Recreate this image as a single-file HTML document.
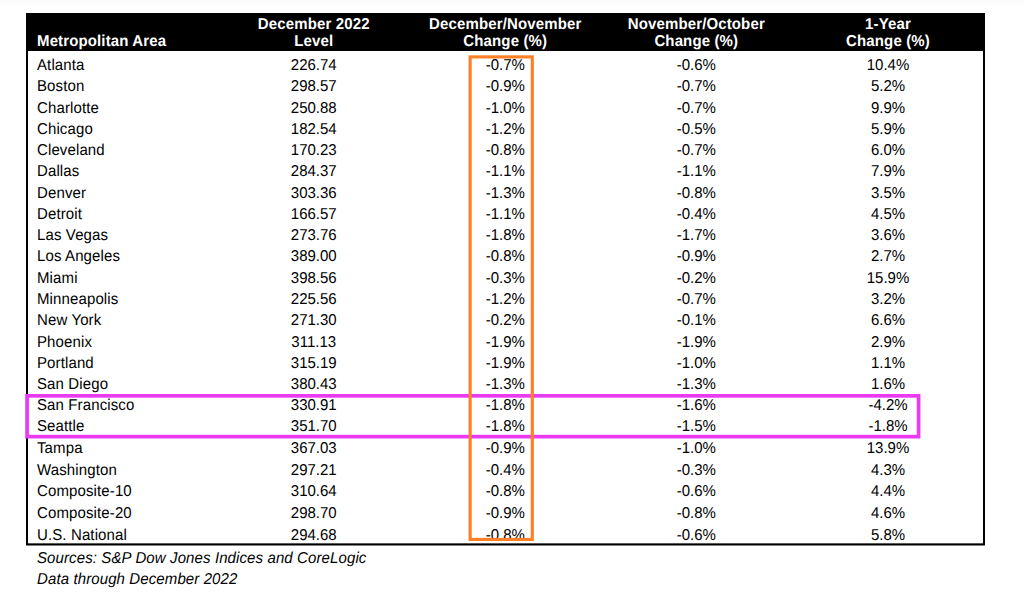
<!DOCTYPE html>
<html><head><meta charset="utf-8"><style>
html,body{margin:0;padding:0;background:#fff;}
body{width:1024px;height:602px;position:relative;overflow:hidden;font-family:"Liberation Sans",sans-serif;font-size:15px;color:#000;}
.t{position:absolute;line-height:20px;height:20px;white-space:nowrap;text-rendering:geometricPrecision;transform:scaleY(1.05);transform-origin:0 15.198px;}
.c{width:200px;text-align:center;}
.h{color:#fff;font-weight:bold;letter-spacing:0.13px;}
.i{font-style:italic;letter-spacing:0.11px;}
.n{letter-spacing:0.12px;}
.box{position:absolute;box-sizing:border-box;}
</style></head><body>
<div class="box" style="left:0;top:0;width:1024px;height:2px;background:#fafafa"></div>
<div class="box" style="left:0;top:2px;width:1024px;height:3px;background:#fdfdfd"></div>
<div class="box" style="left:26px;top:13px;width:959px;height:38px;background:#000"></div>
<div class="box" style="left:26px;top:13px;width:959px;height:532px;border:2px solid #000;border-top:0;border-bottom:0"></div>

<div class="t h" style="left:37.00px;top:31.90px">Metropolitan Area</div>
<div class="t c h" style="left:213.75px;top:14.90px">December 2022</div>
<div class="t c h" style="left:213.75px;top:31.90px">Level</div>
<div class="t c h" style="left:405.25px;top:14.90px">December/November</div>
<div class="t c h" style="left:405.25px;top:31.90px">Change (%)</div>
<div class="t c h" style="left:596.30px;top:14.90px">November/October</div>
<div class="t c h" style="left:596.30px;top:31.90px">Change (%)</div>
<div class="t c h" style="left:788.00px;top:14.90px">1-Year</div>
<div class="t c h" style="left:788.00px;top:31.90px">Change (%)</div>
<div class="t n" style="left:37.00px;top:55.90px">Atlanta</div>
<div class="t c " style="left:213.75px;top:55.90px">226.74</div>
<div class="t c " style="left:405.25px;top:55.90px">-0.7%</div>
<div class="t c " style="left:596.30px;top:55.90px">-0.6%</div>
<div class="t c " style="left:788.00px;top:55.90px">10.4%</div>
<div class="t n" style="left:37.00px;top:76.90px">Boston</div>
<div class="t c " style="left:213.75px;top:76.90px">298.57</div>
<div class="t c " style="left:405.25px;top:76.90px">-0.9%</div>
<div class="t c " style="left:596.30px;top:76.90px">-0.7%</div>
<div class="t c " style="left:788.00px;top:76.90px">5.2%</div>
<div class="t n" style="left:37.00px;top:98.90px">Charlotte</div>
<div class="t c " style="left:213.75px;top:98.90px">250.88</div>
<div class="t c " style="left:405.25px;top:98.90px">-1.0%</div>
<div class="t c " style="left:596.30px;top:98.90px">-0.7%</div>
<div class="t c " style="left:788.00px;top:98.90px">9.9%</div>
<div class="t n" style="left:37.00px;top:119.90px">Chicago</div>
<div class="t c " style="left:213.75px;top:119.90px">182.54</div>
<div class="t c " style="left:405.25px;top:119.90px">-1.2%</div>
<div class="t c " style="left:596.30px;top:119.90px">-0.5%</div>
<div class="t c " style="left:788.00px;top:119.90px">5.9%</div>
<div class="t n" style="left:37.00px;top:140.90px">Cleveland</div>
<div class="t c " style="left:213.75px;top:140.90px">170.23</div>
<div class="t c " style="left:405.25px;top:140.90px">-0.8%</div>
<div class="t c " style="left:596.30px;top:140.90px">-0.7%</div>
<div class="t c " style="left:788.00px;top:140.90px">6.0%</div>
<div class="t n" style="left:37.00px;top:161.90px">Dallas</div>
<div class="t c " style="left:213.75px;top:161.90px">284.37</div>
<div class="t c " style="left:405.25px;top:161.90px">-1.1%</div>
<div class="t c " style="left:596.30px;top:161.90px">-1.1%</div>
<div class="t c " style="left:788.00px;top:161.90px">7.9%</div>
<div class="t n" style="left:37.00px;top:183.90px">Denver</div>
<div class="t c " style="left:213.75px;top:183.90px">303.36</div>
<div class="t c " style="left:405.25px;top:183.90px">-1.3%</div>
<div class="t c " style="left:596.30px;top:183.90px">-0.8%</div>
<div class="t c " style="left:788.00px;top:183.90px">3.5%</div>
<div class="t n" style="left:37.00px;top:204.90px">Detroit</div>
<div class="t c " style="left:213.75px;top:204.90px">166.57</div>
<div class="t c " style="left:405.25px;top:204.90px">-1.1%</div>
<div class="t c " style="left:596.30px;top:204.90px">-0.4%</div>
<div class="t c " style="left:788.00px;top:204.90px">4.5%</div>
<div class="t n" style="left:37.00px;top:225.90px">Las Vegas</div>
<div class="t c " style="left:213.75px;top:225.90px">273.76</div>
<div class="t c " style="left:405.25px;top:225.90px">-1.8%</div>
<div class="t c " style="left:596.30px;top:225.90px">-1.7%</div>
<div class="t c " style="left:788.00px;top:225.90px">3.6%</div>
<div class="t n" style="left:37.00px;top:246.90px">Los Angeles</div>
<div class="t c " style="left:213.75px;top:246.90px">389.00</div>
<div class="t c " style="left:405.25px;top:246.90px">-0.8%</div>
<div class="t c " style="left:596.30px;top:246.90px">-0.9%</div>
<div class="t c " style="left:788.00px;top:246.90px">2.7%</div>
<div class="t n" style="left:37.00px;top:268.90px">Miami</div>
<div class="t c " style="left:213.75px;top:268.90px">398.56</div>
<div class="t c " style="left:405.25px;top:268.90px">-0.3%</div>
<div class="t c " style="left:596.30px;top:268.90px">-0.2%</div>
<div class="t c " style="left:788.00px;top:268.90px">15.9%</div>
<div class="t n" style="left:37.00px;top:289.90px">Minneapolis</div>
<div class="t c " style="left:213.75px;top:289.90px">225.56</div>
<div class="t c " style="left:405.25px;top:289.90px">-1.2%</div>
<div class="t c " style="left:596.30px;top:289.90px">-0.7%</div>
<div class="t c " style="left:788.00px;top:289.90px">3.2%</div>
<div class="t n" style="left:37.00px;top:310.90px">New York</div>
<div class="t c " style="left:213.75px;top:310.90px">271.30</div>
<div class="t c " style="left:405.25px;top:310.90px">-0.2%</div>
<div class="t c " style="left:596.30px;top:310.90px">-0.1%</div>
<div class="t c " style="left:788.00px;top:310.90px">6.6%</div>
<div class="t n" style="left:37.00px;top:332.90px">Phoenix</div>
<div class="t c " style="left:213.75px;top:332.90px">311.13</div>
<div class="t c " style="left:405.25px;top:332.90px">-1.9%</div>
<div class="t c " style="left:596.30px;top:332.90px">-1.9%</div>
<div class="t c " style="left:788.00px;top:332.90px">2.9%</div>
<div class="t n" style="left:37.00px;top:353.90px">Portland</div>
<div class="t c " style="left:213.75px;top:353.90px">315.19</div>
<div class="t c " style="left:405.25px;top:353.90px">-1.9%</div>
<div class="t c " style="left:596.30px;top:353.90px">-1.0%</div>
<div class="t c " style="left:788.00px;top:353.90px">1.1%</div>
<div class="t n" style="left:37.00px;top:374.90px">San Diego</div>
<div class="t c " style="left:213.75px;top:374.90px">380.43</div>
<div class="t c " style="left:405.25px;top:374.90px">-1.3%</div>
<div class="t c " style="left:596.30px;top:374.90px">-1.3%</div>
<div class="t c " style="left:788.00px;top:374.90px">1.6%</div>
<div class="t n" style="left:37.00px;top:395.90px">San Francisco</div>
<div class="t c " style="left:213.75px;top:395.90px">330.91</div>
<div class="t c " style="left:405.25px;top:395.90px">-1.8%</div>
<div class="t c " style="left:596.30px;top:395.90px">-1.6%</div>
<div class="t c " style="left:788.00px;top:395.90px">-4.2%</div>
<div class="t n" style="left:37.00px;top:416.90px">Seattle</div>
<div class="t c " style="left:213.75px;top:416.90px">351.70</div>
<div class="t c " style="left:405.25px;top:416.90px">-1.8%</div>
<div class="t c " style="left:596.30px;top:416.90px">-1.5%</div>
<div class="t c " style="left:788.00px;top:416.90px">-1.8%</div>
<div class="t n" style="left:37.00px;top:438.90px">Tampa</div>
<div class="t c " style="left:213.75px;top:438.90px">367.03</div>
<div class="t c " style="left:405.25px;top:438.90px">-0.9%</div>
<div class="t c " style="left:596.30px;top:438.90px">-1.0%</div>
<div class="t c " style="left:788.00px;top:438.90px">13.9%</div>
<div class="t n" style="left:37.00px;top:460.90px">Washington</div>
<div class="t c " style="left:213.75px;top:460.90px">297.21</div>
<div class="t c " style="left:405.25px;top:460.90px">-0.4%</div>
<div class="t c " style="left:596.30px;top:460.90px">-0.3%</div>
<div class="t c " style="left:788.00px;top:460.90px">4.3%</div>
<div class="t n" style="left:37.00px;top:481.90px">Composite-10</div>
<div class="t c " style="left:213.75px;top:481.90px">310.64</div>
<div class="t c " style="left:405.25px;top:481.90px">-0.8%</div>
<div class="t c " style="left:596.30px;top:481.90px">-0.6%</div>
<div class="t c " style="left:788.00px;top:481.90px">4.4%</div>
<div class="t n" style="left:37.00px;top:503.90px">Composite-20</div>
<div class="t c " style="left:213.75px;top:503.90px">298.70</div>
<div class="t c " style="left:405.25px;top:503.90px">-0.9%</div>
<div class="t c " style="left:596.30px;top:503.90px">-0.8%</div>
<div class="t c " style="left:788.00px;top:503.90px">4.6%</div>
<div class="t n" style="left:37.00px;top:525.90px">U.S. National</div>
<div class="t c " style="left:213.75px;top:525.90px">294.68</div>
<div class="t c " style="left:405.25px;top:525.90px">-0.8%</div>
<div class="t c " style="left:596.30px;top:525.90px">-0.6%</div>
<div class="t c " style="left:788.00px;top:525.90px">5.8%</div>
<div class="t i" style="left:37.00px;top:548.90px">Sources: S&amp;P Dow Jones Indices and CoreLogic</div>
<div class="t i" style="left:37.00px;top:569.90px">Data through December 2022</div>
<svg width="1024" height="602" style="position:absolute;left:0;top:0">
<rect x="26" y="543.35" width="959" height="2.15" fill="#000"/>
<rect x="27.07" y="395.84" width="891.52" height="40.8" fill="none" stroke="#eb3af4" stroke-width="3.7"/>
<rect x="470.15" y="56.9" width="62.15" height="482.55" fill="none" stroke="#ff7f27" stroke-width="3.15"/>
</svg>
</body></html>
